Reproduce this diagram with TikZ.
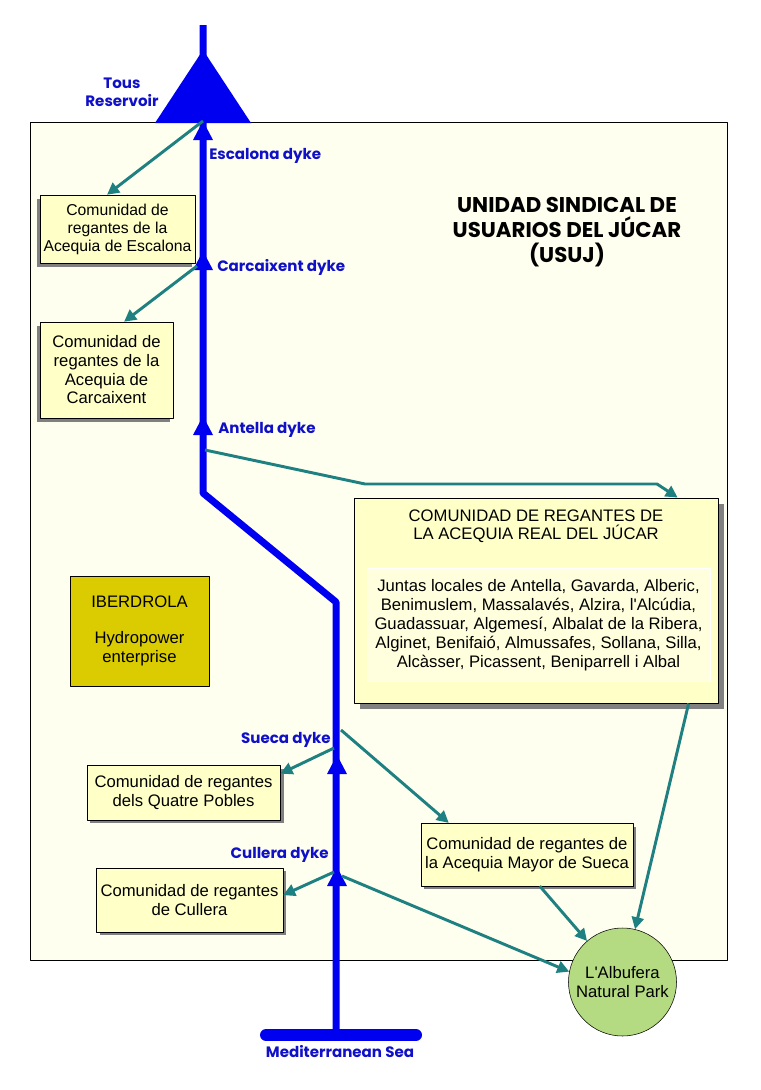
\documentclass[tikz,border=0pt]{standalone}
\usepackage{fontspec}
\setmainfont{Liberation Sans}
\newfontfamily\geofont{Poppins}
\usetikzlibrary{arrows.meta,shadows,positioning}
\definecolor{riverblue}{RGB}{0,0,240}
\definecolor{labelblue}{RGB}{16,16,200}
\definecolor{canalteal}{RGB}{30,128,128}
\definecolor{boxfill}{RGB}{255,255,200}
\definecolor{bgfill}{RGB}{255,255,240}
\definecolor{iberfill}{RGB}{218,204,0}
\definecolor{parkfill}{RGB}{180,218,130}
\tikzset{
  board/.style={draw=black, fill=boxfill, align=center, inner sep=1pt,
    font=\fontsize{12.5}{14}\selectfont},
  shadowleft/.style={drop shadow={shadow xshift=-2.5pt, shadow yshift=-3pt, fill=gray, opacity=1}},
  shadowright/.style={drop shadow={shadow xshift=2.5pt, shadow yshift=-2.5pt, fill=gray, opacity=1}},
  dykelabel/.style={text=labelblue, inner sep=0pt, font=\geofont\bfseries\fontsize{11.3}{13.5}\selectfont},
  canal/.style={draw=canalteal, line width=2.2pt, -{Triangle[length=9pt,width=9pt]}},
  river/.style={draw=riverblue, line width=5.25pt}
}
\begin{document}
\begin{tikzpicture}[x=0.75pt, y=-0.75pt, line join=round]
\useasboundingbox[fill=white] (0,0) rectangle (761,1090);
% USUJ board
\draw[fill=bgfill, line width=0.75pt] (30,122) rectangle (727,960);
\node[font=\geofont\bfseries\fontsize{16}{19}\selectfont, align=center] (usuj) at (567,232)
  {UNIDAD SINDICAL DE\\USUARIOS DEL JÚCAR\\(USUJ)};
% river Júcar
\path (203,25) coordinate (src) (203,493) coordinate (bend1)
  (336,602) coordinate (bend2) (336,1035) coordinate (mouth)
  (203,121) coordinate (esc) (203,251) coordinate (car) (203,416) coordinate (ant)
  (337,755) coordinate (sue) (337,867) coordinate (cul)
  (197,266) coordinate (car-o) (205,450) coordinate (ant-o)
  (365,484) coordinate (ant-m) (657,484) coordinate (ant-n)
  (334,748) coordinate (sue-l) (341,730) coordinate (sue-r)
  (334,872) coordinate (cul-l) (342,876) coordinate (cul-r);
\draw[river] (src) -- (bend1) -- (bend2) -- (mouth);
\draw[river, line width=9pt, line cap=round] (266,1035) -- (416,1035);
\fill[riverblue] (203,50) -- (251,123) -- (155,123) -- cycle;
\foreach \d in {esc,car,ant,sue,cul}
  \fill[riverblue] (\d) -- ++(10,19) -- ++(-20,0) -- cycle;
% labels
\node[dykelabel, align=center] (tous) at (122,92) {Tous\\Reservoir};
\node[dykelabel, anchor=west] (esclab) at (209,156) {Escalona dyke};
\node[dykelabel, anchor=west] (carlab) at (217,267) {Carcaixent dyke};
\node[dykelabel, anchor=west] (antlab) at (218,430) {Antella dyke};
\node[dykelabel, anchor=east] (suelab) at (331,740) {Sueca dyke};
\node[dykelabel, anchor=east] (cullab) at (329,855) {Cullera dyke};
\node[dykelabel] (sea) at (340,1052) {Mediterranean Sea};
% irrigation communities
\node[board, shadowleft, minimum width=116pt, minimum height=51pt,
  font=\fontsize{11.8}{13.5}\selectfont] (escbox) at (117.5,229)
  {Comunidad de\\regantes de la\\Acequia de Escalona};
\node[board, shadowleft, minimum width=100pt, minimum height=72pt] (carbox) at (106.5,370)
  {Comunidad de\\regantes de la\\Acequia de\\Carcaixent};
\node[board, drop shadow={shadow xshift=4.5pt, shadow yshift=-4.5pt, fill=gray, opacity=1},
  minimum width=273pt, minimum height=154pt] (realbox) at (536,600.5) {};
\node[align=center, font=\fontsize{12.5}{13.5}\selectfont, below=6pt of realbox.north] (realtitle)
  {COMUNIDAD DE REGANTES DE\\LA ACEQUIA REAL DEL JÚCAR};
\node[draw=white, fill=boxfill!60!white, align=center, minimum width=257pt, minimum height=85pt,
  font=\fontsize{12.5}{14.3}\selectfont] (realtowns) at (538.5,625)
  {Juntas locales de Antella, Gavarda, Alberic,\\
   Benimuslem, Massalavés, Alzira, l\textquotesingle Alcúdia,\\
   Guadassuar, Algemesí, Albalat de la Ribera,\\
   Alginet, Benifaió, Almussafes, Sollana, Silla,\\
   Alcàsser, Picassent, Beniparrell i Albal};
\node[board, fill=iberfill, minimum width=104pt, minimum height=82.5pt] (iberbox) at (139.5,631)
  {IBERDROLA\\[13pt]Hydropower\\enterprise};
\node[board, shadowright, minimum width=145pt, minimum height=41pt] (quabox) at (183.5,792.5)
  {Comunidad de regantes\\dels Quatre Pobles};
\node[board, shadowright, minimum width=159pt, minimum height=47pt] (suebox) at (527,854.5)
  {Comunidad de regantes de\\la Acequia Mayor de Sueca};
\node[board, shadowright, minimum width=140pt, minimum height=48pt] (culbox) at (189.5,900)
  {Comunidad de regantes\\de Cullera};
\node[circle, draw, fill=parkfill, minimum size=81pt, inner sep=0pt, align=center,
  font=\fontsize{12.5}{14.5}\selectfont] (albu) at (622.5,982)
  {L\textquotesingle Albufera\\Natural Park};
% canals
\draw[canal] (esc) -- (escbox.107);
\draw[canal] (car-o) -- (carbox.70);
\draw[canal] (ant-o) -- (ant-m) -- (ant-n) -- (realbox.36);
\draw[canal] (sue-l) -- (quabox.11);
\draw[canal] (sue-r) -- (suebox.158);
\draw[canal] (cul-l) -- (culbox.3);
\draw[canal] (cul-r) -- (albu.169);
\draw[canal] (suebox.-68) -- (albu);
\draw[canal] (realbox.-34) -- (albu);
\end{tikzpicture}
\end{document}
